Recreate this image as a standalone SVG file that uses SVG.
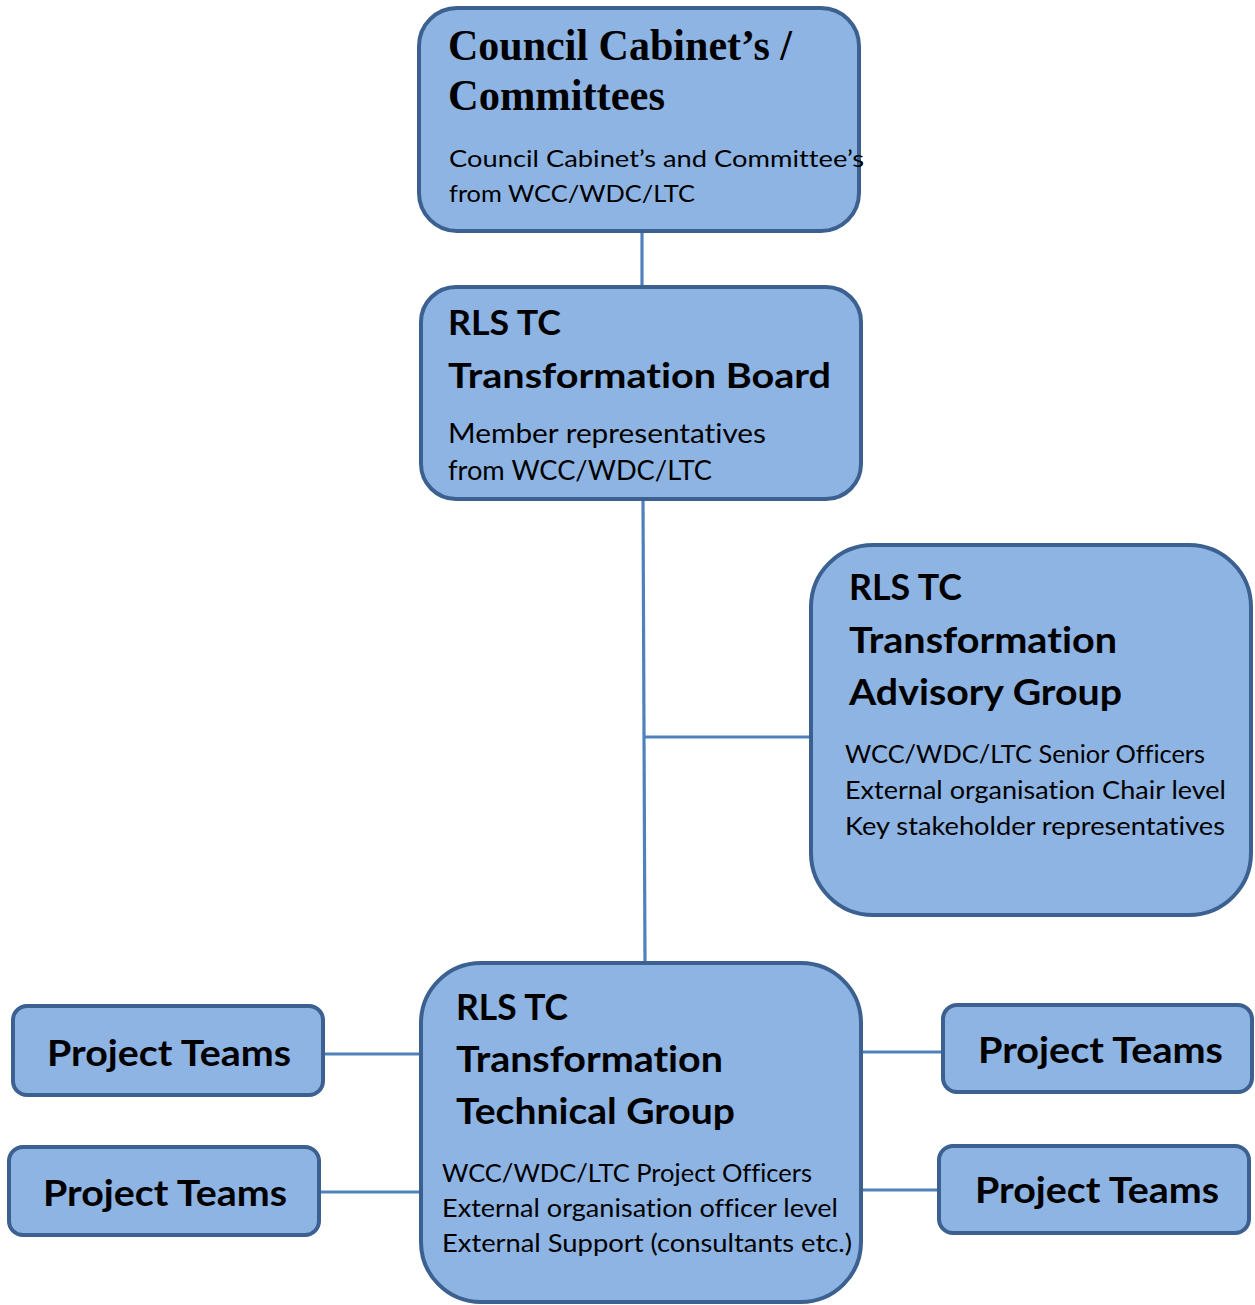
<svg xmlns="http://www.w3.org/2000/svg" width="1255" height="1305" viewBox="0 0 1255 1305">
  <style>
    .box { fill: #8EB4E3; stroke: #3C6191; stroke-width: 4; }
    .link { stroke: #4F81BD; stroke-width: 3.2; fill: none; }
    text { font-variant-ligatures: none; font-feature-settings: "liga" 0, "dlig" 0, "clig" 0; }
    .serif { font-family: "Liberation Serif", "Times New Roman", serif; font-weight: bold; fill: #000; }
    .head { font-family: Lato, "Open Sans", sans-serif; font-weight: bold; fill: #000; }
    .body { font-family: Lato, "Open Sans", sans-serif; fill: #000; }
  </style>
  <rect width="1255" height="1305" fill="#fff"/>

  <!-- connectors -->
  <g id="connectors">
    <line class="link" x1="642" y1="231" x2="642" y2="287"/>
    <line class="link" x1="643" y1="499" x2="645" y2="963"/>
    <line class="link" x1="645" y1="737" x2="811" y2="737"/>
    <line class="link" x1="323" y1="1054" x2="421" y2="1054"/>
    <line class="link" x1="319" y1="1192" x2="421" y2="1192"/>
    <line class="link" x1="861" y1="1052" x2="943" y2="1052"/>
    <line class="link" x1="861" y1="1190" x2="939" y2="1190"/>
  </g>

  <!-- top: councils -->
  <g id="council">
    <rect class="box" x="419" y="8" width="440" height="223" rx="38"/>
    <text class="serif" x="448" y="60" font-size="45" textLength="344" lengthAdjust="spacingAndGlyphs">Council Cabinet’s /</text>
    <text class="serif" x="448" y="110" font-size="45" textLength="217" lengthAdjust="spacingAndGlyphs">Committees</text>
    <text class="body" x="449" y="167" font-size="24" textLength="415" lengthAdjust="spacingAndGlyphs">Council Cabinet’s and Committee’s</text>
    <text class="body" x="449" y="202" font-size="24" textLength="246" lengthAdjust="spacingAndGlyphs">from WCC/WDC/LTC</text>
  </g>

  <!-- transformation board -->
  <g id="board">
    <rect class="box" x="421" y="287" width="440" height="212" rx="35"/>
    <text class="head" x="448" y="335" font-size="35" textLength="113" lengthAdjust="spacingAndGlyphs">RLS TC</text>
    <text class="head" x="448" y="388" font-size="35" textLength="383" lengthAdjust="spacingAndGlyphs">Transformation Board</text>
    <text class="body" x="448" y="443" font-size="26" textLength="318" lengthAdjust="spacingAndGlyphs">Member representatives</text>
    <text class="body" x="448" y="480" font-size="26" textLength="264" lengthAdjust="spacingAndGlyphs">from WCC/WDC/LTC</text>
  </g>

  <!-- advisory group -->
  <g id="advisory">
    <rect class="box" x="811" y="545" width="440" height="370" rx="62"/>
    <text class="head" x="849" y="600" font-size="36" textLength="113" lengthAdjust="spacingAndGlyphs">RLS TC</text>
    <text class="head" x="849" y="653" font-size="36" textLength="268" lengthAdjust="spacingAndGlyphs">Transformation</text>
    <text class="head" x="849" y="705" font-size="36" textLength="273" lengthAdjust="spacingAndGlyphs">Advisory Group</text>
    <text class="body" x="845" y="763" font-size="25" textLength="360" lengthAdjust="spacingAndGlyphs">WCC/WDC/LTC Senior Officers</text>
    <text class="body" x="845" y="799" font-size="25" textLength="381" lengthAdjust="spacingAndGlyphs">External organisation Chair level</text>
    <text class="body" x="845" y="835" font-size="25" textLength="380" lengthAdjust="spacingAndGlyphs">Key stakeholder representatives</text>
  </g>

  <!-- technical group -->
  <g id="technical">
    <rect class="box" x="421" y="963" width="440" height="339" rx="60"/>
    <text class="head" x="456" y="1020" font-size="36" textLength="112" lengthAdjust="spacingAndGlyphs">RLS TC</text>
    <text class="head" x="456" y="1072" font-size="36" textLength="267" lengthAdjust="spacingAndGlyphs">Transformation</text>
    <text class="head" x="456" y="1124" font-size="36" textLength="279" lengthAdjust="spacingAndGlyphs">Technical Group</text>
    <text class="body" x="442" y="1182" font-size="25" textLength="370" lengthAdjust="spacingAndGlyphs">WCC/WDC/LTC Project Officers</text>
    <text class="body" x="442" y="1217" font-size="25" textLength="396" lengthAdjust="spacingAndGlyphs">External organisation officer level</text>
    <text class="body" x="442" y="1252" font-size="25" textLength="410" lengthAdjust="spacingAndGlyphs">External Support (consultants etc.)</text>
  </g>

  <!-- project teams -->
  <g id="teams-left-top">
    <rect class="box" x="13" y="1006" width="310" height="89" rx="14"/>
    <text class="head" x="47" y="1066" font-size="37" textLength="244" lengthAdjust="spacingAndGlyphs">Project Teams</text>
  </g>
  <g id="teams-left-bottom">
    <rect class="box" x="9" y="1147" width="310" height="88" rx="14"/>
    <text class="head" x="43" y="1206" font-size="37" textLength="244" lengthAdjust="spacingAndGlyphs">Project Teams</text>
  </g>
  <g id="teams-right-top">
    <rect class="box" x="943" y="1005" width="309" height="87" rx="14"/>
    <text class="head" x="978" y="1063" font-size="37" textLength="245" lengthAdjust="spacingAndGlyphs">Project Teams</text>
  </g>
  <g id="teams-right-bottom">
    <rect class="box" x="939" y="1146" width="310" height="87" rx="14"/>
    <text class="head" x="975" y="1203" font-size="37" textLength="244" lengthAdjust="spacingAndGlyphs">Project Teams</text>
  </g>
</svg>
